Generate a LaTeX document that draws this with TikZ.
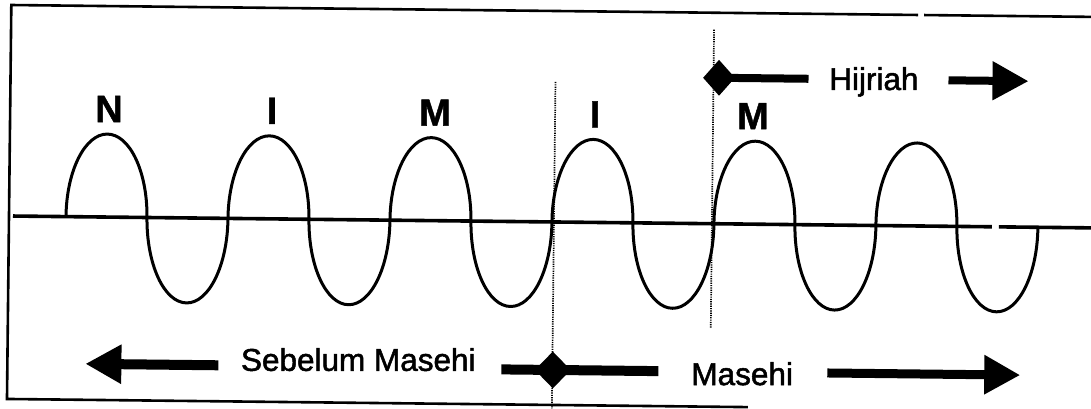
\documentclass[tikz,border=0pt]{standalone}
\usepackage{fontspec}
\setmainfont{Liberation Sans}
\newfontfamily\heavysans{Liberation Sans}[RawFeature={embolden=1.6}]
\newfontfamily\heavybold{Liberation Sans Bold}[RawFeature={embolden=1.2}]
\usetikzlibrary{arrows.meta,shapes.geometric}
\tikzset{
  frameline/.style={line width=2.6pt, line join=miter},
  axisline/.style={line width=3.6pt},
  wavecurve/.style={line width=3pt, line join=round},
  guide/.style={line width=1.7pt, dash pattern=on 1.2pt off 1.1pt},
  shaftline/.style={line width=9pt},
  bigarrow/.style={line width=9pt, -{Triangle[length=36pt,width=37pt]}},
  dia/.style={diamond, fill=black, draw=none, inner sep=0pt, minimum width=35pt, minimum height=37pt},
  lbl/.style={font=\fontsize{38}{38}\selectfont\heavybold, anchor=base, inner sep=0pt},
  txt/.style={font=\fontsize{31.5}{32}\selectfont\heavysans, anchor=base, inner sep=0pt}
}
\begin{document}
\begin{tikzpicture}[x=1pt,y=-1pt]
\useasboundingbox[fill=white] (0,0) rectangle (1091,409);
\begin{scope}[rotate around={-0.63:(10,216)}]
  % frame
  \coordinate (ftr) at (916,5);
  \coordinate (ftl) at (9,5);
  \coordinate (fbl) at (9,399);
  \coordinate (fbr) at (750,399);
  \coordinate (ftr2a) at (922,5);
  \coordinate (ftr2b) at (1098,5);
  \draw[frameline] (ftr) -- (ftl) -- (fbl) -- (fbr);
  \draw[frameline] (ftr2a) -- (ftr2b);
  % axis
  \coordinate (ax1) at (13,216);
  \coordinate (ax2) at (992,216);
  \coordinate (ax3) at (999,216);
  \coordinate (ax4) at (1098,216);
  \draw[axisline] (ax1) -- (ax2);
  \draw[axisline] (ax3) -- (ax4);
  % wave
  \coordinate (w0) at (66,216);
  \draw[wavecurve] (w0)
    \foreach \k in {1,...,6} {
      arc[start angle=180, end angle=360, x radius=40.5, y radius=83]
      arc[start angle=180, end angle=0, x radius=40.5, y radius=85]
    };
  % dotted guides
  \coordinate (g1t) at (554,76);
  \coordinate (g1b) at (554,412);
  \coordinate (g2t) at (712,22);
  \coordinate (g2b) at (712,321);
  \draw[guide] (g1t) -- (g1b);
  \draw[guide] (g2t) -- (g2b);
  % labels
  \node[lbl] (lN) at (108,121) {N};
  \node[lbl] (lI1) at (271,121) {I};
  \node[lbl] (lM1) at (434,121) {M};
  \node[lbl] (lI2) at (594,121) {I};
  \node[lbl] (lM2) at (752,121) {M};
  % Hijriah row
  \coordinate (hL) at (807,70);
  \coordinate (hR) at (947,70);
  \coordinate (hT) at (1027,70);
  \node[dia, minimum width=32pt, minimum height=36pt] (dH) at (717.5,70) {};
  \draw[line width=8pt] (dH.center) -- (hL);
  \node[txt] (tH) at (872.5,80.5) {Hijriah};
  \draw[bigarrow, line width=8pt] (hR) -- (hT);
  % bottom row
  \coordinate (sR) at (220,363);
  \coordinate (sT) at (87,363);
  \draw[bigarrow, line width=10pt] (sR) -- (sT);
  \node[txt] (tS) at (360,367) {Sebelum Masehi};
  \coordinate (mL) at (503,364);
  \coordinate (mR) at (660,364);
  \node[dia, minimum width=36pt, minimum height=37pt] (dM) at (554.5,364) {};
  \draw[shaftline, line width=10pt] (mL) -- (dM.center) -- (mR);
  \node[txt] (tM) at (744,377) {Masehi};
  \coordinate (rL) at (829,364);
  \coordinate (rT) at (1022,364);
  \draw[bigarrow] (rL) -- (rT);
\end{scope}
\end{tikzpicture}
\end{document}
